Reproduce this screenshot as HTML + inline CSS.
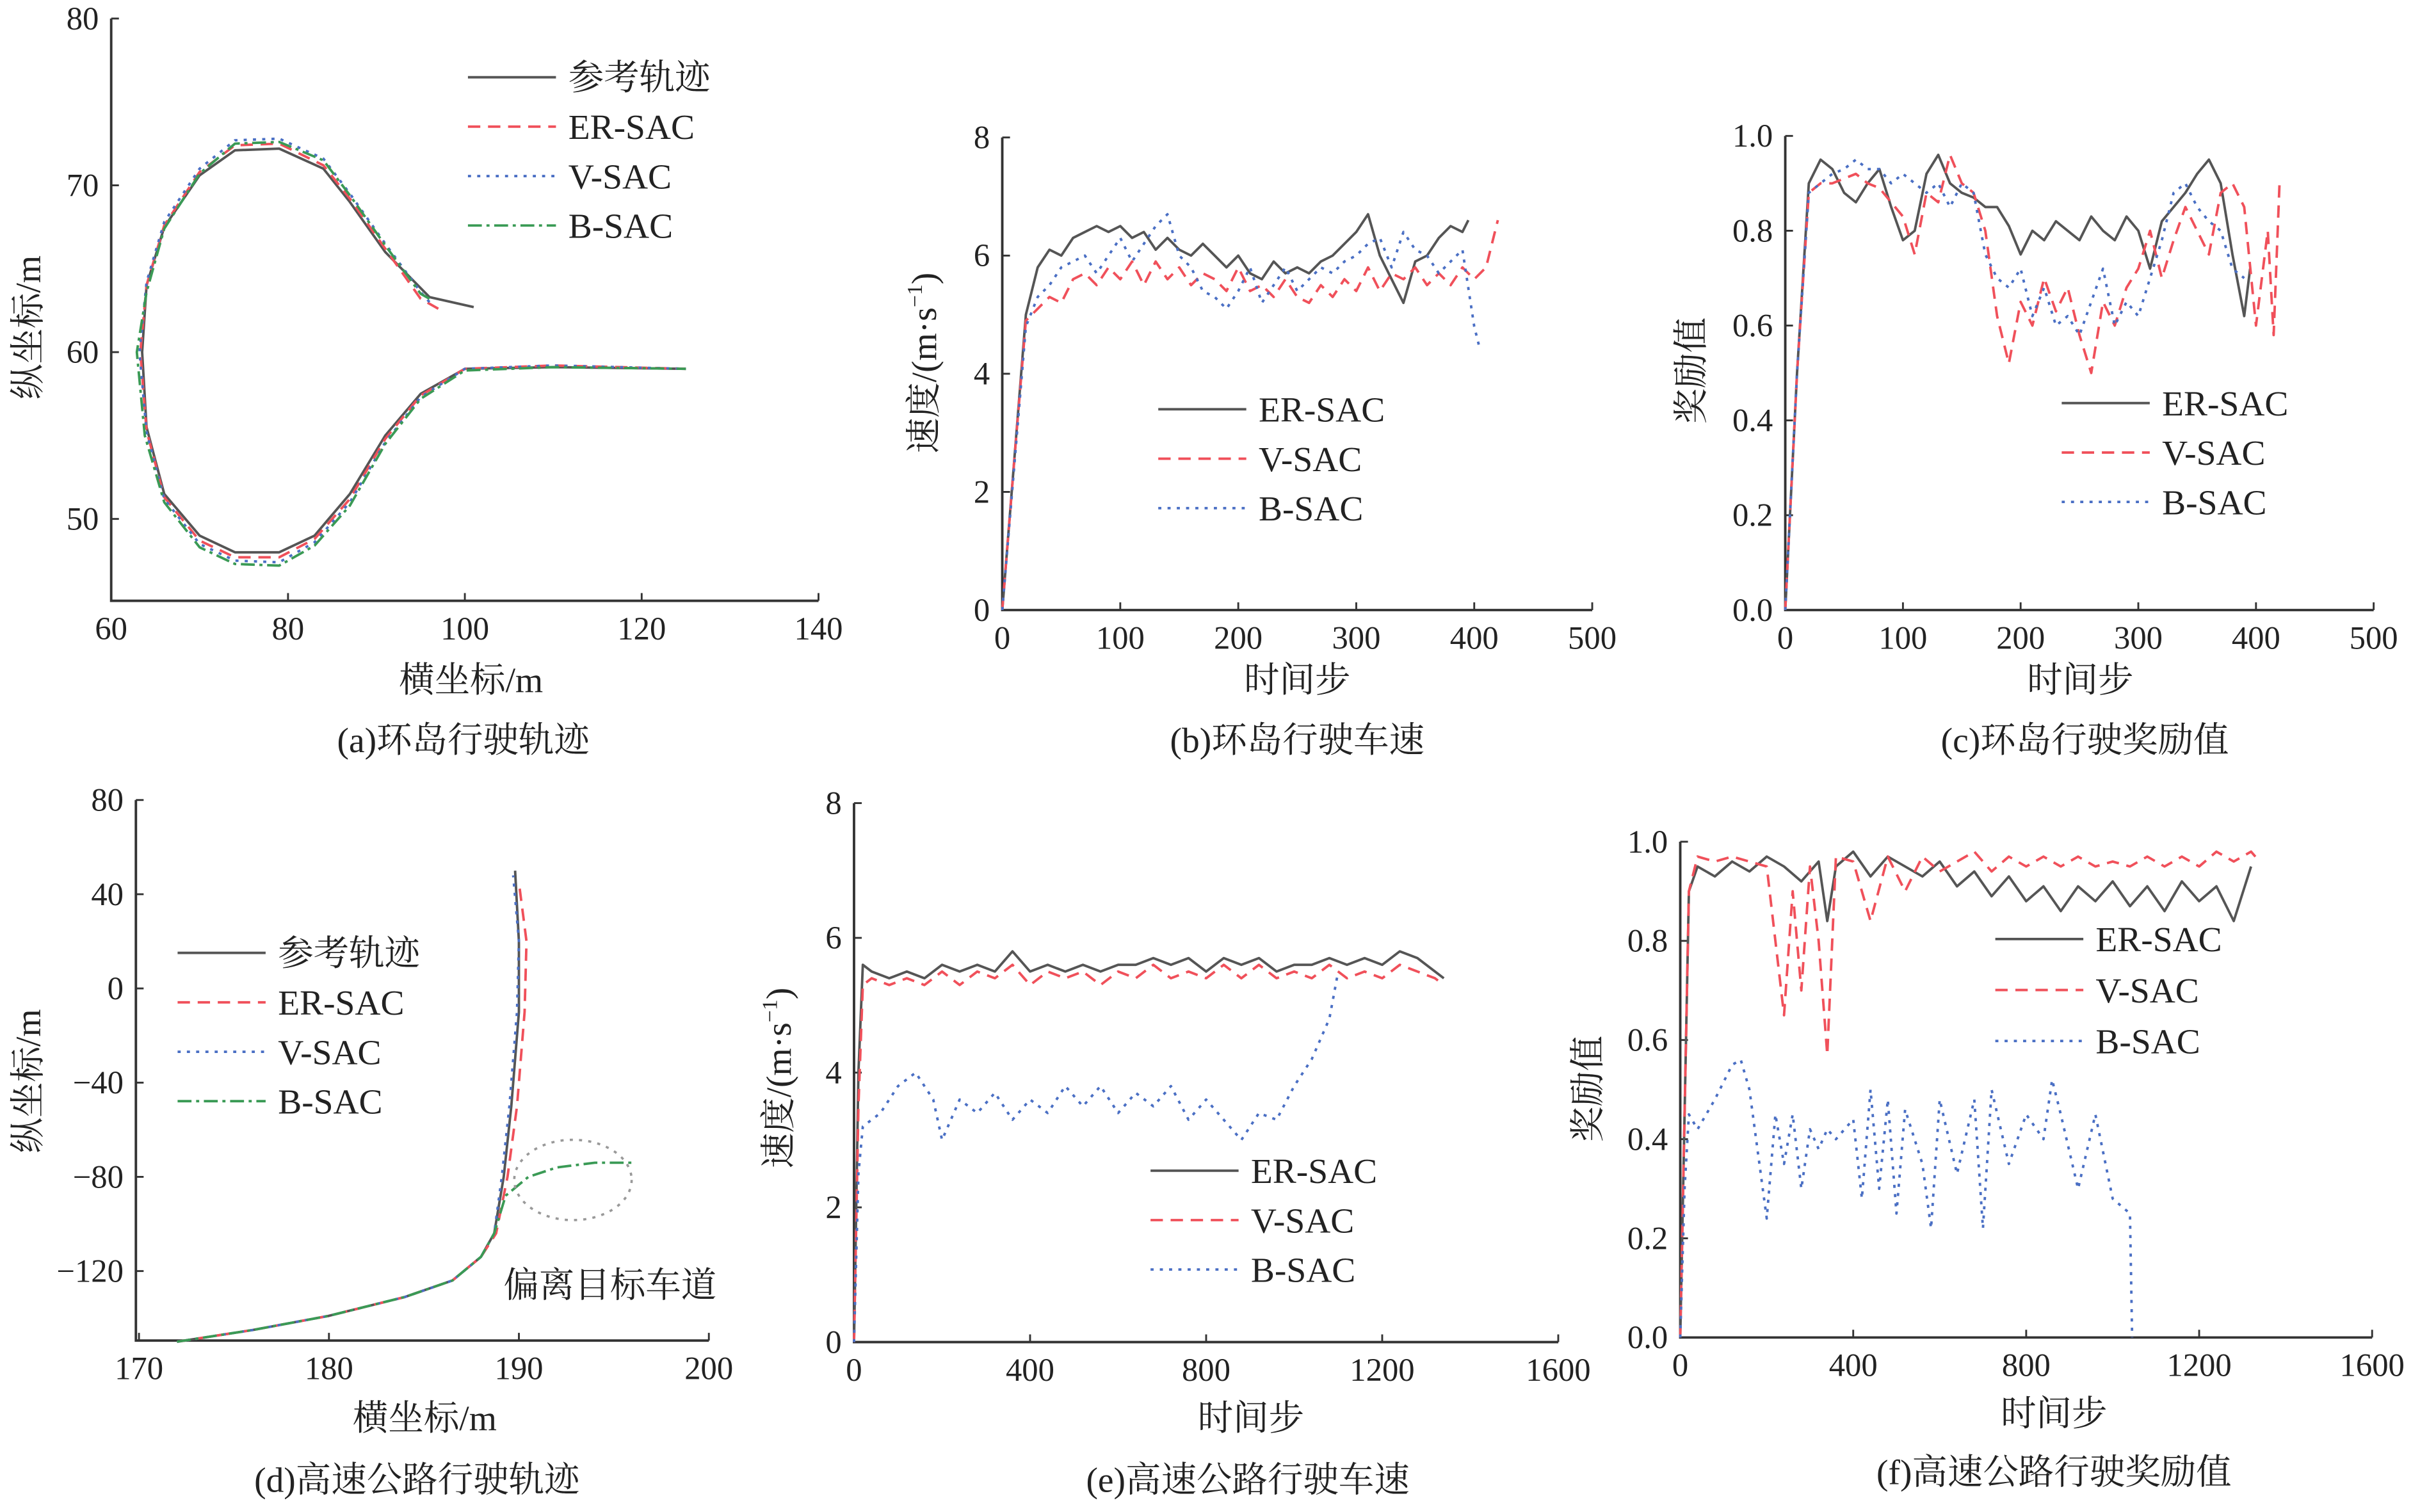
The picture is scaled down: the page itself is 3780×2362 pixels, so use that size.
<!DOCTYPE html>
<html><head><meta charset="utf-8">
<style>
html,body{margin:0;padding:0;background:#fff;}
svg{display:block;}
.t{font-family:"Liberation Serif","Noto Serif CJK SC",serif;fill:#222;}
</style></head>
<body>
<svg id="fig" width="3780" height="2362" viewBox="0 0 1567 979" preserveAspectRatio="none" xmlns="http://www.w3.org/2000/svg">
<rect width="1567" height="979" fill="#fff"/>
</svg>
<script>
// ---------- data ----------
// (a) roundabout trajectory
const aRefX=[101,96,91,87,84,79,74,70,66,64,63.5,64,66,70,74,79,83,87,91,95,100,110,125];
const aRefY=[62.7,63.3,66,69,71,72.2,72.1,70.6,67.5,64,60,55.5,51.5,49,48,48,49,51.5,55,57.5,59,59.1,59];
const aErX=[97,95,91,87,84,79,74,70,66,64,63.3,64,66,70,74,79,83,87,91,95,100,110,125];
const aErY=[62.6,63.2,66.2,69.2,71.2,72.5,72.4,70.8,67.6,64,60,55.3,51.3,48.7,47.7,47.7,48.8,51.2,54.8,57.4,59,59.2,59];
const aVX=[96,95,91,87,84,79,74,70,66,64,63.2,64,66,70,74,79,83,87,91,95,100,110,125];
const aVY=[63,63.6,66.5,69.5,71.6,72.8,72.7,71,67.8,64.2,60,55.2,51.2,48.5,47.5,47.4,48.6,51,54.6,57.3,59,59.2,59];
const aBX=[96,95,91,87,84,79,74,70,66,64,62.9,63.8,66,70,74,79,83,87,91,95,100,110,125];
const aBY=[63.2,63.5,66.4,69.4,71.5,72.6,72.5,70.7,67.4,63.6,60,55,51,48.3,47.3,47.2,48.4,50.8,54.5,57.2,58.9,59.1,59];
// (b) roundabout speed
const bErT=[0,10,20,30,40,50,60,70,80,90,100,110,120,130,140,150,160,170,180,190,200,210,220,230,240,250,260,270,280,290,300,310,320,330,340,350,360,370,380,390,395];
const bErV=[0,2.5,5,5.8,6.1,6.0,6.3,6.4,6.5,6.4,6.5,6.3,6.4,6.1,6.3,6.1,6.0,6.2,6.0,5.8,6.0,5.7,5.6,5.9,5.7,5.8,5.7,5.9,6.0,6.2,6.4,6.7,6.0,5.6,5.2,5.9,6.0,6.3,6.5,6.4,6.6];
const bVT=[0,10,20,30,40,50,60,70,80,90,100,110,120,130,140,150,160,170,180,190,200,210,220,230,240,250,260,270,280,290,300,310,320,330,340,350,360,370,380,390,400,410,420];
const bVV=[0,2.5,4.9,5.1,5.3,5.2,5.6,5.7,5.5,5.8,5.6,5.9,5.5,5.9,5.6,5.8,5.5,5.7,5.6,5.4,5.8,5.4,5.5,5.3,5.6,5.3,5.2,5.5,5.3,5.6,5.4,5.8,5.4,5.7,5.6,5.8,5.5,5.7,5.5,5.8,5.6,5.8,6.6];
const bBT=[0,10,20,30,40,50,60,70,80,90,100,110,120,130,140,150,160,170,180,190,200,210,220,230,240,250,260,270,280,290,300,310,320,330,340,350,360,370,380,390,400,405];
const bBV=[0,2.4,4.8,5.3,5.5,5.8,5.9,6.0,5.7,6.0,6.3,5.9,6.2,6.5,6.7,6.0,5.8,5.4,5.3,5.1,5.4,5.8,5.2,5.5,5.8,5.4,5.6,5.8,5.7,5.9,6.0,6.2,6.3,5.8,6.4,6.1,6.0,5.7,5.9,6.1,4.8,4.4];
// (c) roundabout reward
const cErV=[0,0.5,0.9,0.95,0.93,0.88,0.86,0.9,0.93,0.85,0.78,0.8,0.92,0.96,0.9,0.88,0.87,0.85,0.85,0.81,0.75,0.8,0.78,0.82,0.8,0.78,0.83,0.8,0.78,0.83,0.8,0.72,0.82,0.85,0.88,0.92,0.95,0.9,0.75,0.62,0.72];
const cVT=[0,10,20,30,40,50,60,70,80,90,100,110,120,130,140,150,160,170,180,190,200,210,220,230,240,250,260,270,280,290,300,310,320,330,340,350,360,370,380,390,400,410,415,420];
const cVV=[0,0.5,0.88,0.9,0.9,0.91,0.92,0.9,0.89,0.86,0.83,0.75,0.88,0.86,0.96,0.9,0.88,0.8,0.62,0.52,0.65,0.6,0.7,0.63,0.68,0.58,0.5,0.65,0.6,0.68,0.72,0.8,0.7,0.78,0.85,0.8,0.75,0.88,0.9,0.85,0.6,0.8,0.58,0.9];
const cBT=[0,10,20,30,40,50,60,70,80,90,100,110,120,130,140,150,160,170,180,190,200,210,220,230,240,250,260,270,280,290,300,310,320,330,340,350,360,370,380,390];
const cBV=[0,0.5,0.88,0.9,0.92,0.93,0.95,0.93,0.93,0.9,0.92,0.9,0.88,0.9,0.85,0.9,0.88,0.75,0.7,0.68,0.72,0.62,0.68,0.6,0.62,0.58,0.65,0.72,0.6,0.65,0.62,0.7,0.78,0.88,0.9,0.85,0.82,0.8,0.72,0.7];
// (d) highway trajectory
const dRefX=[172,176,180,184,186.5,188,188.7,189.2,189.6,190,190,189.8];
const dRefY=[-150,-145,-139,-131,-124,-114,-104,-80,-50,-10,20,50];
const dErX=[172,176,180,184,186.5,188,188.8,189.4,189.9,190.3,190.4,190.0];
const dErY=[-150,-145,-139,-131,-124,-114,-104,-80,-50,-10,20,45];
const dVX=[172,176,180,184,186.5,188,188.7,189.1,189.5,189.9,190,189.7];
const dVY=[-150,-145,-139,-131,-124,-114,-104,-80,-50,-10,20,48];
const dBX=[172,176,180,184,186.5,188,188.7,189.3,190.5,192,194,196];
const dBY=[-150,-145,-139,-131,-124,-114,-104,-88,-80,-76,-74,-74];
// (e) highway speed
const eErT=[0,10,20,40,80,120,160,200,240,280,320,360,400,440,480,520,560,600,640,680,720,760,800,840,880,920,960,1000,1040,1080,1120,1160,1200,1240,1280,1320,1340];
const eErV=[0,4,5.6,5.5,5.4,5.5,5.4,5.6,5.5,5.6,5.5,5.8,5.5,5.6,5.5,5.6,5.5,5.6,5.6,5.7,5.6,5.7,5.5,5.7,5.6,5.7,5.5,5.6,5.6,5.7,5.6,5.7,5.6,5.8,5.7,5.5,5.4];
const eVV=[0,3.5,5.3,5.4,5.3,5.4,5.3,5.5,5.3,5.5,5.4,5.6,5.3,5.5,5.4,5.5,5.3,5.5,5.4,5.6,5.4,5.5,5.4,5.6,5.4,5.6,5.4,5.5,5.4,5.6,5.4,5.5,5.4,5.6,5.5,5.4,5.3];
const eBT=[0,10,20,60,100,140,180,200,240,280,320,360,400,440,480,520,560,600,640,680,720,760,800,840,880,920,960,1000,1040,1080,1100];
const eBV=[0,2.5,3.2,3.4,3.8,4.0,3.6,3.0,3.6,3.4,3.7,3.3,3.6,3.4,3.8,3.5,3.8,3.4,3.7,3.5,3.8,3.3,3.6,3.3,3.0,3.4,3.3,3.8,4.2,4.8,5.5];
// (f) highway reward
const fErT=[0,20,40,80,120,160,200,240,280,320,340,360,400,440,480,520,560,600,640,680,720,760,800,840,880,920,960,1000,1040,1080,1120,1160,1200,1240,1280,1320];
const fErV=[0,0.9,0.95,0.93,0.96,0.94,0.97,0.95,0.92,0.96,0.84,0.95,0.98,0.93,0.97,0.95,0.93,0.96,0.91,0.94,0.89,0.93,0.88,0.91,0.86,0.91,0.88,0.92,0.87,0.91,0.86,0.92,0.88,0.91,0.84,0.95];
const fVT=[0,20,40,80,120,160,200,220,240,260,280,300,320,340,360,400,440,480,520,560,600,640,680,720,760,800,840,880,920,960,1000,1040,1080,1120,1160,1200,1240,1280,1320,1340];
const fVV=[0,0.9,0.97,0.96,0.97,0.96,0.95,0.8,0.65,0.9,0.7,0.95,0.8,0.57,0.97,0.96,0.84,0.97,0.9,0.97,0.94,0.96,0.98,0.94,0.97,0.95,0.97,0.95,0.97,0.95,0.96,0.95,0.97,0.95,0.97,0.95,0.98,0.96,0.98,0.96];
const fBT=[0,10,20,40,80,120,140,160,200,220,240,260,280,300,320,340,360,400,420,440,460,480,500,520,560,580,600,640,680,700,720,760,800,840,860,880,920,960,1000,1040,1045];
const fBV=[0,0.3,0.45,0.42,0.48,0.55,0.56,0.5,0.24,0.45,0.35,0.45,0.3,0.42,0.38,0.42,0.4,0.44,0.28,0.5,0.3,0.48,0.25,0.46,0.35,0.22,0.48,0.33,0.48,0.22,0.5,0.35,0.45,0.4,0.52,0.45,0.3,0.45,0.28,0.25,0.0];
// tick labels
const aXTicks=[60,80,100,120,140], aYTicks=[50,60,70,80];
const bXTicks=[0,100,200,300,400,500], bYTicks=[0,2,4,6,8];
const cXTicks=[0,100,200,300,400,500], cYTicks=["0.0","0.2","0.4","0.6","0.8","1.0"];
const dXTicks=[170,180,190,200], dYTicks=[-120,-80,-40,0,40,80];
const eXTicks=[0,400,800,1200,1600], eYTicks=[0,2,4,6,8];
const fXTicks=[0,400,800,1200,1600], fYTicks=["0.0","0.2","0.4","0.6","0.8","1.0"];

// ---------- drawing ----------
const NS="http://www.w3.org/2000/svg";
const svg=document.getElementById('fig');
function mk(tag,attrs,parent){const e=document.createElementNS(NS,tag);for(const k in attrs)e.setAttribute(k,attrs[k]);(parent||svg).appendChild(e);return e;}
const STY={
  gray:{stroke:"#555",dash:""},
  red:{stroke:"#f0505a",dash:"8,5"},
  blue:{stroke:"#4a6fc4",dash:"2,4"},
  green:{stroke:"#3a9a55",dash:"9,3,2,3"}
};
function scale(d0,d1,p0,p1){return v=>p0+(v-d0)*(p1-p0)/(d1-d0);}
function series(g,xs,ys,sx,sy,sty,name){
  const pts=xs.map((x,i)=>sx(x).toFixed(2)+","+sy(ys[i]).toFixed(2)).join(" ");
  const p=mk('polyline',{points:pts,fill:"none",stroke:STY[sty].stroke,"stroke-width":1.6,"stroke-dasharray":STY[sty].dash,"stroke-linejoin":"round"},g);
  
  
}
function text(g,x,y,s,size,anchor,name,extra){
  const t=mk('text',Object.assign({x:x,y:y,"font-size":size,"text-anchor":anchor||"middle","class":"t"},extra||{}),g);
  t.textContent=s;
  
  
  return t;
}
function panel(o){
  const g=mk('g',{});
  
  
  const sx=scale(o.xd[0],o.xd[1],o.xp[0],o.xp[1]);
  const sy=scale(o.yd[0],o.yd[1],o.yp[0],o.yp[1]);
  const ax=mk('path',{d:`M${o.axL},${o.axT} V${o.axB} H${o.axR}`,fill:"none",stroke:"#333","stroke-width":1.6},g);
  
  
  o.xt.forEach(v=>{const x=sx(+v);
    const tk=mk('line',{x1:x,x2:x,y1:o.axB,y2:o.axB-5,stroke:"#333","stroke-width":1.2},g);
    
    
    text(g,x,o.axB+25,String(v),21,"middle",'x-tick-label');});
  o.yt.forEach(v=>{const y=sy(+v);
    const tk=mk('line',{x1:o.axL,x2:o.axL+5,y1:y,y2:y,stroke:"#333","stroke-width":1.2},g);
    
    
    text(g,o.axL-8,y+7,String(v).replace('-','\u2212'),21,"end",'y-tick-label');});
  o.series.forEach(s=>series(g,s[0],s[1],sx,sy,s[2],s[3]));
  text(g,o.xtitle[1],o.xtitle[2],o.xtitle[0],23,"middle",'x-axis-title');
  const yt=text(g,0,0,o.ytitle[0],23,"middle",'y-axis-title',{transform:`translate(${o.ytitle[1]},${o.ytitle[2]}) rotate(-90)`});
  if(o.ytitle[3]){yt.textContent='';const a=mk('tspan',{},yt);a.textContent='速度/(m·s';const b=mk('tspan',{dy:-9,"font-size":14},yt);b.textContent='−1';const c=mk('tspan',{dy:9},yt);c.textContent=')';}
  text(g,o.cap[1],o.cap[2],o.cap[0],23,"middle",'panel-caption');
  o.legend.entries.forEach((e,i)=>{
    const y=o.legend.y+i*o.legend.dy;
    const lg=mk('g',{},g);
    
    
    const l=mk('line',{x1:o.legend.x,x2:o.legend.x+57,y1:y,y2:y,stroke:STY[e[1]].stroke,"stroke-width":1.6,"stroke-dasharray":STY[e[1]].dash},lg);
    
    
    text(lg,o.legend.x+65,y+8,e[0],23,"start",'legend-label');
  });
  return g;
}
const L3=[["ER-SAC","gray"],["V-SAC","red"],["B-SAC","blue"]];
const L4=[["参考轨迹","gray"],["ER-SAC","red"],["V-SAC","blue"],["B-SAC","green"]];
panel({name:'panel-a',xd:[60,140],xp:[72,530],yd:[50,80],yp:[336,12],axL:72,axT:12,axB:389,axR:530,xt:aXTicks,yt:aYTicks,
  series:[[aRefX,aRefY,'gray','ref-trajectory'],[aErX,aErY,'red','er-sac-trajectory'],[aVX,aVY,'blue','v-sac-trajectory'],[aBX,aBY,'green','b-sac-trajectory']],
  xtitle:['横坐标/m',305,448],ytitle:['纵坐标/m',26,212],cap:['(a)环岛行驶轨迹',300,487],legend:{x:303,y:50,dy:32,entries:L4}});
panel({name:'panel-b',xd:[0,500],xp:[649,1031],yd:[0,8],yp:[395,89],axL:649,axT:89,axB:395,axR:1031,xt:bXTicks,yt:bYTicks,
  series:[[bErT,bErV,'gray','er-sac-speed'],[bVT,bVV,'red','v-sac-speed'],[bBT,bBV,'blue','b-sac-speed']],
  xtitle:['时间步',840,448],ytitle:['',606,235,1],cap:['(b)环岛行驶车速',840,487],legend:{x:750,y:265,dy:32,entries:L3}});
panel({name:'panel-c',xd:[0,500],xp:[1156,1537],yd:[0,1],yp:[395,88],axL:1156,axT:88,axB:395,axR:1537,xt:cXTicks,yt:cYTicks,
  series:[[bErT,cErV,'gray','er-sac-reward'],[cVT,cVV,'red','v-sac-reward'],[cBT,cBV,'blue','b-sac-reward']],
  xtitle:['时间步',1347,448],ytitle:['奖励值',1103,240],cap:['(c)环岛行驶奖励值',1350,487],legend:{x:1335,y:261,dy:32,entries:L3}});
panel({name:'panel-d',xd:[170,200],xp:[90,459],yd:[-120,80],yp:[823,518],axL:88,axT:518,axB:868,axR:459,xt:dXTicks,yt:dYTicks,
  series:[[dRefX,dRefY,'gray','ref-trajectory'],[dErX,dErY,'red','er-sac-trajectory'],[dVX,dVY,'blue','v-sac-trajectory'],[dBX,dBY,'green','b-sac-trajectory']],
  xtitle:['横坐标/m',275,926],ytitle:['纵坐标/m',26,700],cap:['(d)高速公路行驶轨迹',270,966],legend:{x:115,y:617,dy:32,entries:L4}});
const ell=mk('ellipse',{cx:371,cy:764,rx:38,ry:26,fill:"none",stroke:"#999","stroke-width":1.5,"stroke-dasharray":"2,4"});


text(svg,395,840,'偏离目标车道',23,"middle",'deviation-annotation');
panel({name:'panel-e',xd:[0,1600],xp:[553,1009],yd:[0,8],yp:[869,520],axL:553,axT:520,axB:869,axR:1009,xt:eXTicks,yt:eYTicks,
  series:[[eErT,eErV,'gray','er-sac-speed'],[eErT,eVV,'red','v-sac-speed'],[eBT,eBV,'blue','b-sac-speed']],
  xtitle:['时间步',810,926],ytitle:['',512,698,1],cap:['(e)高速公路行驶车速',808,966],legend:{x:745,y:758,dy:32,entries:L3}});
panel({name:'panel-f',xd:[0,1600],xp:[1088,1536],yd:[0,1],yp:[866,545],axL:1088,axT:545,axB:866,axR:1536,xt:fXTicks,yt:fYTicks,
  series:[[fErT,fErV,'gray','er-sac-reward'],[fVT,fVV,'red','v-sac-reward'],[fBT,fBV,'blue','b-sac-reward']],
  xtitle:['时间步',1330,923],ytitle:['奖励值',1036,705],cap:['(f)高速公路行驶奖励值',1330,961],legend:{x:1292,y:608,dy:33,entries:L3}});
</script>
</body></html>
